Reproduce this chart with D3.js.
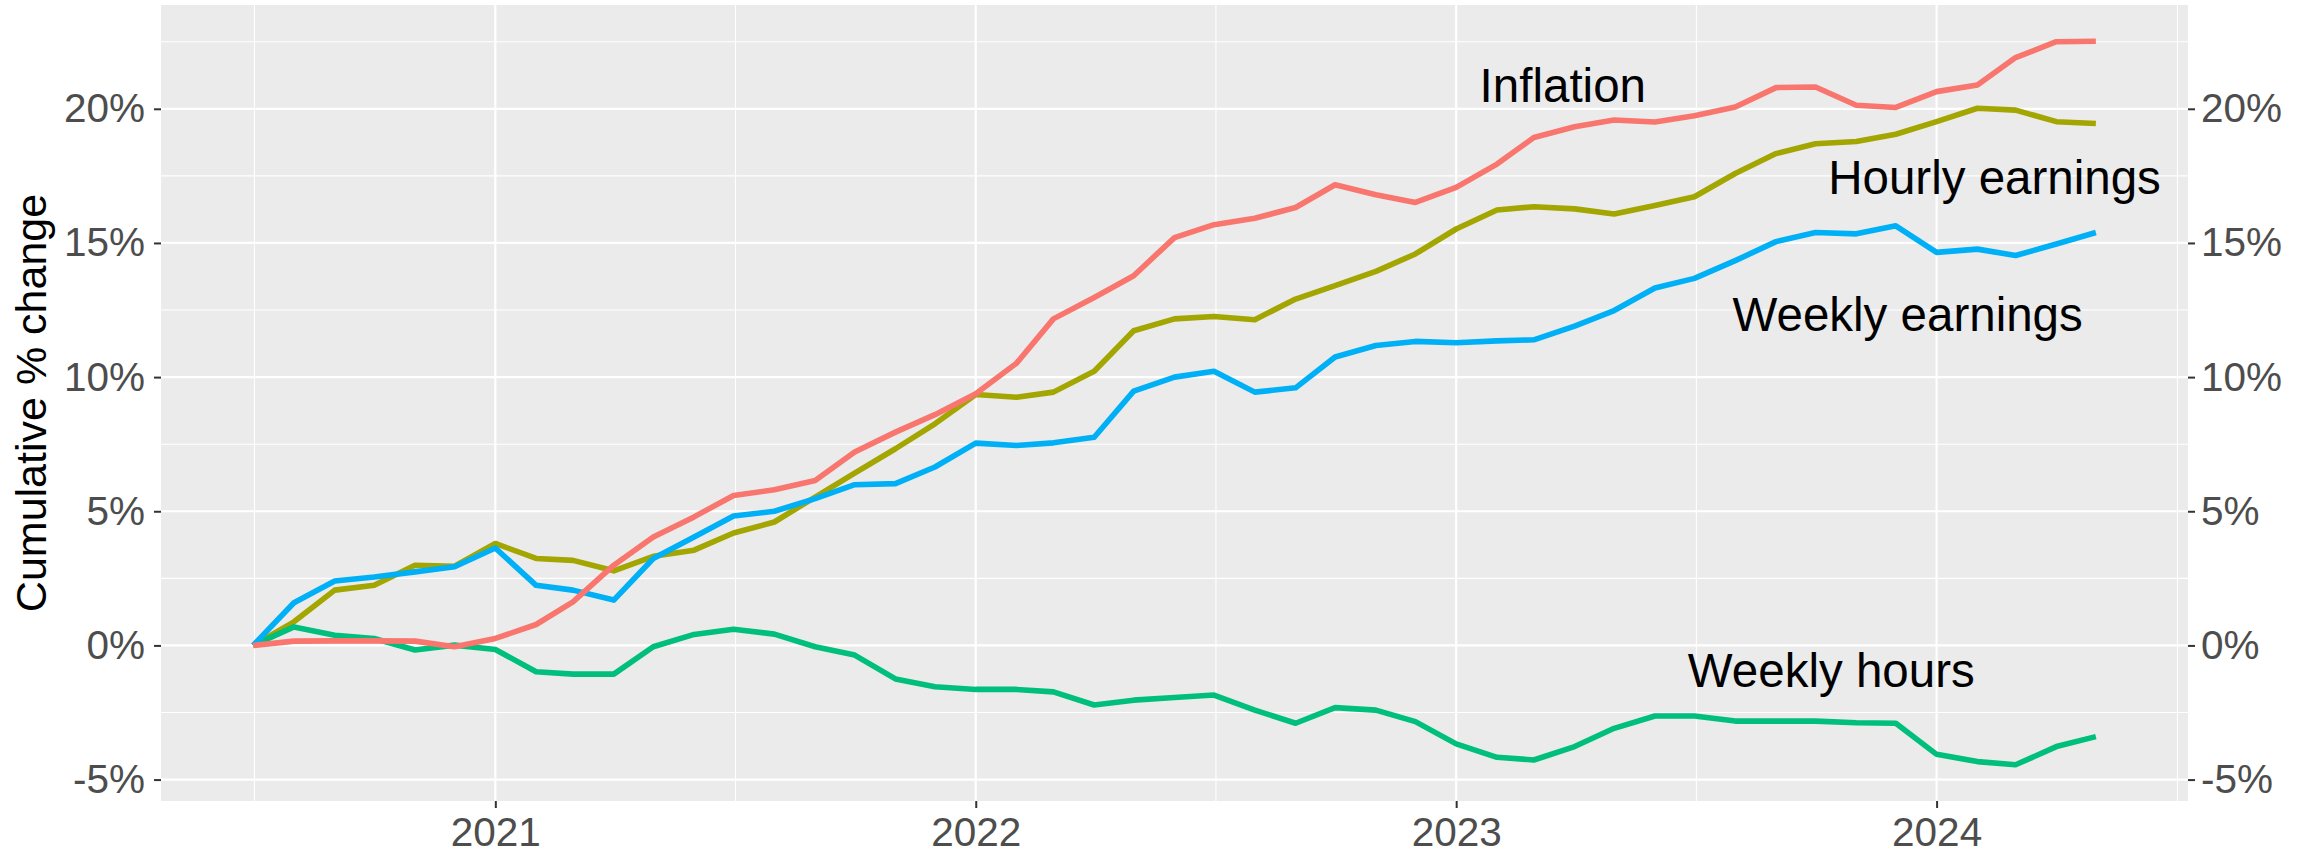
<!DOCTYPE html>
<html><head><meta charset="utf-8">
<script src="https://cdn.jsdelivr.net/npm/d3@7"></script>
<style>html,body{margin:0;padding:0;background:#fff;} svg{display:block;}</style>
</head><body>
<svg id="chart" width="2318" height="865"></svg>
<script>
// ---- data (monthly, cumulative % change since Jul 2020) ----
const months = [
  "2020-07","2020-08","2020-09","2020-10","2020-11","2020-12",
  "2021-01","2021-02","2021-03","2021-04","2021-05","2021-06",
  "2021-07","2021-08","2021-09","2021-10","2021-11","2021-12",
  "2022-01","2022-02","2022-03","2022-04","2022-05","2022-06",
  "2022-07","2022-08","2022-09","2022-10","2022-11","2022-12",
  "2023-01","2023-02","2023-03","2023-04","2023-05","2023-06",
  "2023-07","2023-08","2023-09","2023-10","2023-11","2023-12",
  "2024-01","2024-02","2024-03","2024-04","2024-05"
];
const inflation = [
  0, 0.16, 0.17, 0.17, 0.16, -0.05,
  0.26, 0.78, 1.62, 2.99, 4.04, 4.79,
  5.59, 5.80, 6.15, 7.21, 7.95, 8.60,
  9.38, 10.52, 12.17, 12.97, 13.78, 15.20,
  15.68, 15.92, 16.32, 17.17, 16.80, 16.51,
  17.07, 17.94, 18.93, 19.33, 19.58, 19.51,
  19.74, 20.07, 20.79, 20.81, 20.13, 20.05,
  20.64, 20.89, 21.91, 22.50, 22.52
];
const hourlyEarnings = [
  0, 0.88, 2.06, 2.24, 2.99, 2.95,
  3.80, 3.24, 3.17, 2.78, 3.32, 3.55,
  4.19, 4.60, 5.53, 6.42, 7.33, 8.26,
  9.35, 9.25, 9.44, 10.22, 11.73, 12.17,
  12.26, 12.14, 12.91, 13.41, 13.94, 14.59,
  15.52, 16.23, 16.35, 16.27, 16.08, 16.40,
  16.72, 17.59, 18.33, 18.70, 18.78, 19.05,
  19.52, 20.02, 19.95, 19.52, 19.45
];
const weeklyEarnings = [
  0, 1.59, 2.40, 2.55, 2.74, 2.93,
  3.63, 2.24, 2.06, 1.69, 3.24, 4.04,
  4.82, 5.00, 5.47, 5.99, 6.03, 6.65,
  7.54, 7.45, 7.55, 7.76, 9.48, 10.00,
  10.22, 9.44, 9.60, 10.75, 11.18, 11.33,
  11.28, 11.35, 11.39, 11.90, 12.48, 13.32,
  13.68, 14.34, 15.05, 15.39, 15.34, 15.64,
  14.65, 14.77, 14.53, 14.96, 15.39
];
const weeklyHours = [
  0, 0.69, 0.38, 0.26, -0.17, 0.01,
  -0.15, -0.98, -1.07, -1.07, -0.05, 0.41,
  0.60, 0.42, -0.05, -0.36, -1.25, -1.54,
  -1.64, -1.64, -1.73, -2.22, -2.04, -1.94,
  -1.85, -2.41, -2.90, -2.32, -2.41, -2.84,
  -3.67, -4.17, -4.27, -3.77, -3.09, -2.63,
  -2.63, -2.82, -2.82, -2.82, -2.88, -2.90,
  -4.06, -4.33, -4.45, -3.77, -3.40
];
// drawing order (last on top)
const seriesNames  = ["Hourly earnings", "Weekly hours", "Weekly earnings", "Inflation"];
const seriesValues = [hourlyEarnings, weeklyHours, weeklyEarnings, inflation];
const seriesColors = ["#A3A500", "#00BF7D", "#00B0F6", "#F8766D"];

const yTicks = [-5, 0, 5, 10, 15, 20];
const xTickYears = [2021, 2022, 2023, 2024];
const yTitle = "Cumulative % change";

// direct labels on the lines
const labelTexts  = ["Inflation", "Hourly earnings", "Weekly earnings", "Weekly hours"];
const labelDates  = ["2023-03-23", "2024-02-14", "2023-12-10", "2023-10-13"];
const labelValues = [20.88, 17.44, 12.35, -0.93];

// ---- layout ----
const W = 2318, H = 865;
const panel = {left: 161, right: 2188, top: 5, bottom: 801};
const FONT = "'Liberation Sans', Arial, Helvetica, sans-serif";

const parseMonth = d3.timeParse("%Y-%m");
const parseDay = d3.timeParse("%Y-%m-%d");
const dates = months.map(parseMonth);

// ggplot-style 5% expansion
const xExt = d3.extent(dates);
const xPad = (xExt[1] - xExt[0]) * 0.05;
const x = d3.scaleTime()
  .domain([new Date(+xExt[0] - xPad), new Date(+xExt[1] + xPad)])
  .range([panel.left, panel.right]);

const allVals = seriesValues.flat();
const yExt = d3.extent(allVals);
const yPad = (yExt[1] - yExt[0]) * 0.05;
const y = d3.scaleLinear()
  .domain([yExt[0] - yPad, yExt[1] + yPad])
  .range([panel.bottom, panel.top]);

const svg = d3.select("#chart");
svg.append("rect").attr("width", W).attr("height", H).attr("fill", "#ffffff");
svg.append("rect")
  .attr("x", panel.left).attr("y", panel.top)
  .attr("width", panel.right - panel.left).attr("height", panel.bottom - panel.top)
  .attr("fill", "#EBEBEB");

// grid
const grid = svg.append("g");
const majorX = xTickYears.map(yr => new Date(yr, 0, 1));
const yearBreaks = d3.range(xTickYears[0] - 1, xTickYears[xTickYears.length - 1] + 2).map(yr => new Date(yr, 0, 1));
const minorX = d3.pairs(yearBreaks).map(([a, b]) => new Date((+a + +b) / 2))
  .filter(d => d >= x.domain()[0] && d <= x.domain()[1]);
const yBreaksAll = d3.range(yTicks[0] - 5, yTicks[yTicks.length - 1] + 10, 5);
const minorY = d3.pairs(yBreaksAll).map(([a, b]) => (a + b) / 2)
  .filter(v => v >= y.domain()[0] && v <= y.domain()[1]);

grid.selectAll(".minx").data(minorX).join("line")
  .attr("x1", d => x(d)).attr("x2", d => x(d))
  .attr("y1", panel.top).attr("y2", panel.bottom)
  .attr("stroke", "#fff").attr("stroke-width", 1.1);
grid.selectAll(".miny").data(minorY).join("line")
  .attr("y1", d => y(d)).attr("y2", d => y(d))
  .attr("x1", panel.left).attr("x2", panel.right)
  .attr("stroke", "#fff").attr("stroke-width", 1.1);
grid.selectAll(".majx").data(majorX).join("line")
  .attr("x1", d => x(d)).attr("x2", d => x(d))
  .attr("y1", panel.top).attr("y2", panel.bottom)
  .attr("stroke", "#fff").attr("stroke-width", 2.2);
grid.selectAll(".majy").data(yTicks).join("line")
  .attr("y1", d => y(d)).attr("y2", d => y(d))
  .attr("x1", panel.left).attr("x2", panel.right)
  .attr("stroke", "#fff").attr("stroke-width", 2.2);

// lines
const line = d3.line().x((d, i) => x(dates[i])).y(d => y(d));
svg.append("g").selectAll("path").data(seriesValues).join("path")
  .attr("d", d => line(d))
  .attr("fill", "none")
  .attr("stroke", (d, i) => seriesColors[i])
  .attr("stroke-width", 5.6)
  .attr("stroke-linejoin", "round")
  .attr("stroke-linecap", "butt");

// axes
function styleAxis(g) {
  g.select(".domain").remove();
  g.selectAll(".tick line").attr("stroke", "#333333").attr("stroke-width", 2);
  g.selectAll(".tick text").attr("fill", "#4D4D4D").attr("font-size", 40.5).attr("font-family", FONT);
}
const pct = d => `${d}%`;
svg.append("g").attr("transform", `translate(${panel.left},0)`)
  .call(d3.axisLeft(y).tickValues(yTicks).tickFormat(pct).tickSize(7).tickPadding(9))
  .call(styleAxis);
svg.append("g").attr("transform", `translate(${panel.right},0)`)
  .call(d3.axisRight(y).tickValues(yTicks).tickFormat(pct).tickSize(7).tickPadding(6))
  .call(styleAxis);
svg.append("g").attr("transform", `translate(0,${panel.bottom})`)
  .call(d3.axisBottom(x).tickValues(majorX).tickFormat(d3.timeFormat("%Y")).tickSize(7).tickPadding(9))
  .call(styleAxis);

// y title
svg.append("text")
  .attr("transform", `translate(46,${(panel.top + panel.bottom) / 2}) rotate(-90)`)
  .attr("text-anchor", "middle")
  .attr("font-family", FONT).attr("font-size", 43).attr("fill", "#000")
  .text(yTitle);

// direct labels
svg.append("g").selectAll("text").data(labelTexts).join("text")
  .attr("x", (d, i) => x(parseDay(labelDates[i])))
  .attr("y", (d, i) => y(labelValues[i]))
  .attr("dy", "0.35em")
  .attr("text-anchor", "middle")
  .attr("font-family", FONT).attr("font-size", 47.5).attr("fill", "#000")
  .text(d => d);
</script>
</body></html>
